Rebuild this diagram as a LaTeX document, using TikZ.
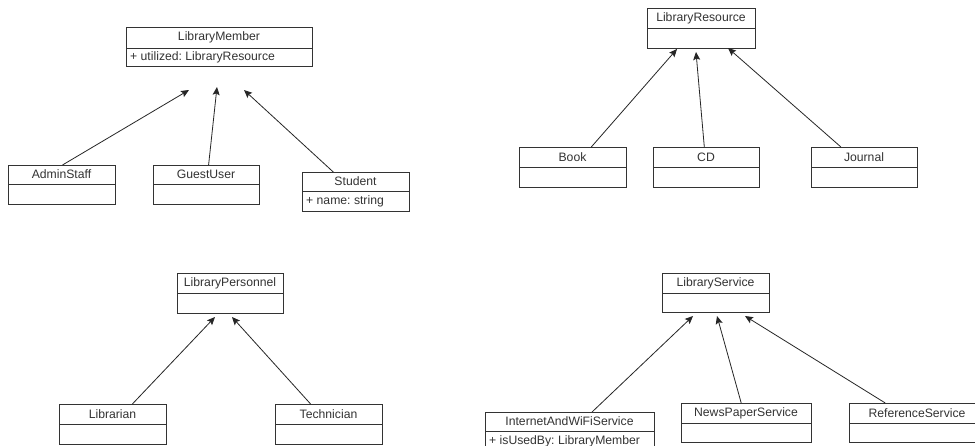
\documentclass[tikz,border=0pt]{standalone}
\usepackage{fontspec}
\setmainfont{Liberation Sans}
\usetikzlibrary{calc,arrows.meta}
\frenchspacing

% #1 name, #2 left, #3 top, #4 width, #5 height, #6 divider y, #7 class name, #8 attribute
\newcommand\umlclass[8]{%
  \node[cls, minimum width=#4pt, minimum height=#5pt] (#1) at (#2,#3) {};
  \draw[clsline] (#1.west |- 0,#6) -- (#1.east |- 0,#6);
  \node[ttl] (#1-name) at ({#2+#4/2},{(#3+#6)/2}) {#7};
  \node[attr] (#1-attr) at ({#2+4},{#6+(#3+#5-#6)/2}) {#8};
}

\begin{document}
\begin{tikzpicture}[x=1pt,y=-1pt,
  cls/.style={draw=black!80, line width=0.9pt, rectangle, inner sep=0pt, anchor=north west},
  clsline/.style={draw=black!80, line width=0.9pt},
  ttl/.style={font=\fontsize{12.2}{14}\selectfont, text=black!80, inner sep=0pt},
  attr/.style={font=\fontsize{12.2}{14}\selectfont, text=black!80, anchor=west, inner sep=0pt},
  gen/.style={draw=black!85, line width=0.8pt, -{Stealth[length=8pt,width=7pt,inset=1.5pt]}}
]
\clip (0,0) rectangle (975,445);
\fill[white] (0,0) rectangle (975,445);

% library members
\umlclass{lm}{126}{27}{186}{39}{48}{LibraryMember}{+ utilized: LibraryResource}
\umlclass{admin}{8}{165}{107}{39}{184}{AdminStaff}{}
\umlclass{guest}{153}{165}{106}{39}{184}{GuestUser}{}
\umlclass{student}{302}{172}{107}{39}{191}{Student}{+ name: string}
\coordinate (lmA) at (189,90);
\coordinate (lmB) at (217,87);
\coordinate (lmC) at (244,90);
\draw[gen] ($(admin.north west)!0.505!(admin.north east)$) -- (lmA);
\draw[gen] ($(guest.north west)!0.52!(guest.north east)$) -- (lmB);
\draw[gen] ($(student.north west)!0.29!(student.north east)$) -- (lmC);

% library resources
\umlclass{res}{647}{8}{108}{40}{28}{LibraryResource}{}
\umlclass{book}{519}{147}{107}{40}{167}{Book}{}
\umlclass{cd}{653}{147}{106}{40}{167}{CD}{}
\umlclass{journal}{811}{147}{106}{40}{167}{Journal}{}
\coordinate (resA) at (677,49);
\coordinate (resB) at (696,52);
\coordinate (resC) at (728,48);
\draw[gen] ($(book.north west)!0.67!(book.north east)$) -- (resA);
\draw[gen] ($(cd.north west)!0.48!(cd.north east)$) -- (resB);
\draw[gen] ($(journal.north west)!0.28!(journal.north east)$) -- (resC);

% library personnel
\umlclass{pers}{177}{273}{106}{40}{293}{LibraryPersonnel}{}
\umlclass{librarian}{59}{404}{107}{40}{424}{Librarian}{}
\umlclass{tech}{275}{404}{107}{40}{424}{Technician}{}
\coordinate (persA) at (215,317);
\coordinate (persB) at (232,317);
\draw[gen] ($(librarian.north west)!0.68!(librarian.north east)$) -- (persA);
\draw[gen] ($(tech.north west)!0.33!(tech.north east)$) -- (persB);

% library services
\umlclass{svc}{662}{273}{107}{39}{293}{LibraryService}{}
\umlclass{wifi}{485}{412}{169}{40}{431}{InternetAndWiFiService}{+ isUsedBy: LibraryMember}
\umlclass{news}{681}{403}{130}{39}{423}{NewsPaperService}{}
\umlclass{ref}{849}{403}{136}{39}{423}{ReferenceService}{}
\coordinate (svcA) at (693,316);
\coordinate (svcB) at (717,316);
\coordinate (svcC) at (745,316);
\draw[gen] ($(wifi.north west)!0.63!(wifi.north east)$) -- (svcA);
\draw[gen] ($(news.north west)!0.46!(news.north east)$) -- (svcB);
\draw[gen] ($(ref.north west)!0.265!(ref.north east)$) -- (svcC);
\end{tikzpicture}
\end{document}
